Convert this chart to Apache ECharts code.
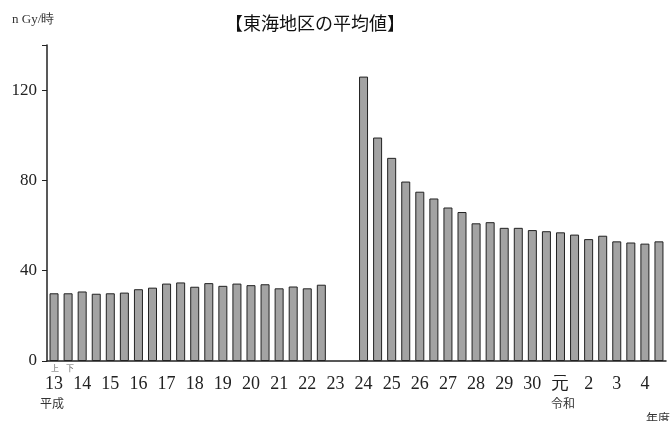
<!DOCTYPE html>
<html><head><meta charset="utf-8">
<script src="https://cdn.jsdelivr.net/npm/echarts@6/dist/echarts.min.js"></script>
<style>html,body{margin:0;padding:0;background:#fff}#c{width:672px;height:421px}</style>
</head><body><div id="c"></div>
<script>
const yearLabels = ['13','14','15','16','17','18','19','20','21','22','23','24','25','26','27','28','29','30','元','2','3','4'];
const halves = ['上','下'];
const values = [30,30,30.8,29.8,30,30.3,31.8,32.5,34.3,34.8,32.9,34.5,33.3,34.3,33.6,34,32.2,33,32.2,33.8,
  null,null,
  126,99,90,79.5,75,72,68,66,61,61.5,59,59,58,57.5,57,56,54,55.5,53,52.5,52,53];
const categories = [];
yearLabels.forEach(y => halves.forEach(h => categories.push(y + h)));
const chart = echarts.init(document.getElementById('c'));
const serif = 'Liberation Serif';
chart.setOption({
  animation:false,
  grid:{left:47,right:6,top:45,bottom:60},
  xAxis:{type:'category',data:categories,
    axisLine:{lineStyle:{color:'#222',width:1.5}},axisTick:{show:false},
    axisLabel:{interval:0,fontFamily:serif,fontSize:18,color:'#222',margin:14,
      formatter:(v,i)=> i%2===0 ? v.slice(0,-1) : ''}},
  yAxis:{type:'value',min:0,max:140,interval:40,
    axisLine:{show:true,lineStyle:{color:'#222',width:1.5}},
    axisTick:{show:true,inside:false,length:5,lineStyle:{color:'#222'}},
    splitLine:{show:false},
    axisLabel:{fontFamily:serif,fontSize:17,color:'#222',margin:10,
      formatter:v=> v===140?'':v}},
  series:[{type:'bar',data:values,barCategoryGap:'36%',
    itemStyle:{color:'#a3a3a3',borderColor:'#222',borderWidth:1}}],
  graphic:[
    {type:'text',left:225,top:14,style:{text:'【東海地区の平均値】',font:'18px "Noto Sans CJK JP"',fill:'#111'}},
    {type:'text',left:12,top:13,style:{text:'n Gy/時',font:'13px "Liberation Serif"',fill:'#333'}},
    {type:'text',left:51,top:364,style:{text:'上',font:'8px "Noto Sans CJK JP"',fill:'#666'}},
    {type:'text',left:66,top:364,style:{text:'下',font:'8px "Noto Sans CJK JP"',fill:'#666'}},
    {type:'text',left:40,top:397,style:{text:'平成',font:'12px "Noto Sans CJK JP"',fill:'#333'}},
    {type:'text',left:551,top:397,style:{text:'令和',font:'12px "Noto Sans CJK JP"',fill:'#333'}},
    {type:'text',left:646,top:412,style:{text:'年度',font:'12px "Noto Sans CJK JP"',fill:'#333'}}
  ]
});
</script></body></html>
